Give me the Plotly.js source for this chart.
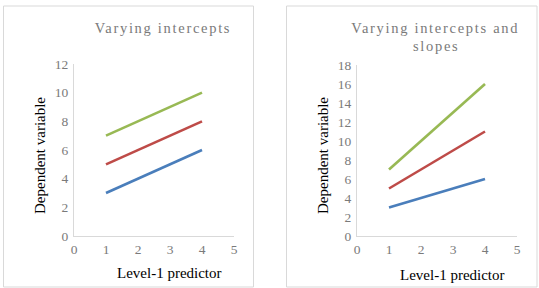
<!DOCTYPE html>
<html>
<head>
<meta charset="utf-8">
<script src="https://cdn.plot.ly/plotly-3.0.1.min.js"></script>
<style>
  html, body { margin: 0; padding: 0; background: #fff; }
  #chart { width: 539px; height: 288px; }
  #chart .annotation-text.spaced { letter-spacing: 1.7px; }
</style>
</head>
<body>
<div id="chart"></div>
<script>
// Level-1 predictor values at the two ends of each group line
const predictor = [1, 4];

// Panel A: varying intercepts (common slope)
const interceptsBlue = [3, 6];
const interceptsRed = [5, 8];
const interceptsGreen = [7, 10];

// Panel B: varying intercepts and slopes
const slopesBlue = [3, 6];
const slopesRed = [5, 11];
const slopesGreen = [7, 16];

const xTicks = [0, 1, 2, 3, 4, 5];
const yTicksA = [0, 2, 4, 6, 8, 10, 12];
const yTicksB = [0, 2, 4, 6, 8, 10, 12, 14, 16, 18];

const colors = ['#4a7ebb', '#be4b48', '#98b954'];
const serif = "'Liberation Serif', 'Times New Roman', serif";
const grey = '#7a7a7a';
const W = 539, H = 288;
const px = v => v / W;
const py = v => 1 - v / H;

function line(x, y, color, xa, ya) {
  return { x, y, type: 'scatter', mode: 'lines', xaxis: xa, yaxis: ya,
           line: { color, width: 2.6 }, hoverinfo: 'skip', showlegend: false };
}

const traces = [
  line(predictor, interceptsBlue, colors[0], 'x', 'y'),
  line(predictor, interceptsRed, colors[1], 'x', 'y'),
  line(predictor, interceptsGreen, colors[2], 'x', 'y'),
  line(predictor, slopesBlue, colors[0], 'x2', 'y2'),
  line(predictor, slopesRed, colors[1], 'x2', 'y2'),
  line(predictor, slopesGreen, colors[2], 'x2', 'y2')
];

function axisBase() {
  return {
    showgrid: false, zeroline: false, showline: true, linecolor: '#d9d9d9', linewidth: 1,
    ticks: '', tickfont: { family: serif, size: 13.5, color: grey }, fixedrange: true
  };
}

function xAxis(domain, anchor) {
  return Object.assign(axisBase(), { domain, anchor, range: [0, 5],
    tickmode: 'array', tickvals: xTicks, ticklabelstandoff: 1 });
}
function yAxis(domain, anchor, range, ticks) {
  return Object.assign(axisBase(), { domain, anchor, range,
    tickmode: 'array', tickvals: ticks, ticklabelstandoff: 2 });
}

function text(t, x, y, opts) {
  return Object.assign({ text: t, x: px(x), y: py(y), xref: 'paper', yref: 'paper',
    showarrow: false, xanchor: 'center', yanchor: 'middle',
    font: { family: serif, size: 15, color: '#000' } }, opts || {});
}

const titleFont = { family: serif, size: 14.5, color: grey };

const layout = {
  width: W, height: H,
  margin: { l: 0, r: 0, t: 0, b: 0 },
  paper_bgcolor: '#fff', plot_bgcolor: 'rgba(0,0,0,0)',
  xaxis: xAxis([px(74), px(234)], 'y'),
  yaxis: yAxis([py(236), py(64)], 'x', [0, 12], yTicksA),
  xaxis2: xAxis([px(357), px(517)], 'y2'),
  yaxis2: yAxis([py(236), py(65)], 'x2', [0, 18], yTicksB),
  shapes: [
    { type: 'rect', xref: 'paper', yref: 'paper', x0: px(3.5), x1: px(253.5), y0: py(287), y1: py(6),
      line: { color: '#d9d9d9', width: 1 } },
    { type: 'rect', xref: 'paper', yref: 'paper', x0: px(286.5), x1: px(537), y0: py(287), y1: py(6),
      line: { color: '#d9d9d9', width: 1 } }
  ],
  annotations: [
    text('Varying intercepts', 163, 28, { font: titleFont }),
    text('Varying intercepts and', 435, 28, { font: titleFont }),
    text('slopes', 436, 46, { font: titleFont }),
    text('Dependent variable', 40, 156, { textangle: -90 }),
    text('Dependent variable', 323, 156, { textangle: -90 }),
    text('Level-1 predictor', 169, 273),
    text('Level-1 predictor', 452, 275)
  ]
};

Plotly.newPlot('chart', traces, layout, { staticPlot: true, displayModeBar: false }).then(() => {
  // widen letter spacing on the two panel titles
  document.querySelectorAll('#chart .annotation-text').forEach(el => {
    const t = el.textContent;
    if (t.indexOf('Varying') === 0 || t === 'slopes') el.classList.add('spaced');
  });
});
</script>
</body>
</html>
